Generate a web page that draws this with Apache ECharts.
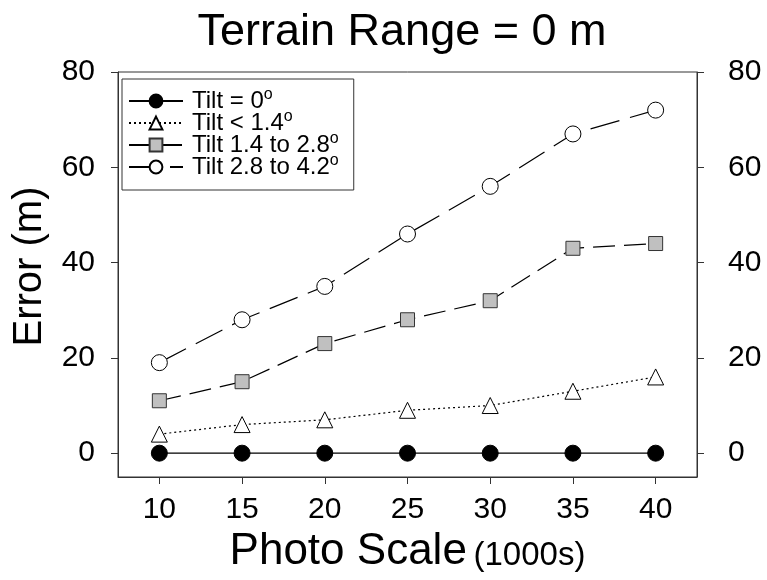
<!DOCTYPE html>
<html>
<head>
<meta charset="utf-8">
<script src="https://cdn.jsdelivr.net/npm/echarts@6/dist/echarts.min.js"></script>
<style>
  html, body { margin: 0; padding: 0; background: #fff; }
  #chart { width: 767px; height: 580px; }
</style>
</head>
<body>
<div id="chart"></div>
<script>
// photo scale (1000s)
const scales = [10, 15, 20, 25, 30, 35, 40];
// error (m) per tilt class
const tilt0 = [0, 0, 0, 0, 0, 0, 0];
const tiltLow = [4, 6, 7, 9, 10, 13, 16];
const tiltMid = [11, 15, 23, 28, 32, 43, 44];
const tiltHigh = [19, 28, 35, 46, 56, 67, 72];
const yTicks = [0, 20, 40, 60, 80];

const font = 'Liberation Sans, Arial, sans-serif';

function pairs(ys) {
    return scales.map((x, i) => [x, ys[i]]);
}

const chart = echarts.init(document.getElementById('chart'));

// y 轴公共设置
function yAxisOf(pos, margin) {
    return {
        type: 'value',
        position: pos,
        min: -5,
        max: 80,
        splitLine: { show: false },
        axisLine: { show: true, lineStyle: { color: '#333', width: 1 } },
        axisTick: { show: true, inside: false, length: 7, customValues: yTicks, lineStyle: { color: '#333' } },
        axisLabel: { show: true, customValues: yTicks, margin: margin, fontSize: 30, color: '#000', fontFamily: font }
    };
}

const left = yAxisOf('left', 23);
left.name = 'Error (m)';
left.nameLocation = 'middle';
left.nameGap = 68;
left.nameTextStyle = { fontSize: 40, color: '#000', fontFamily: font, padding: [0, 0, 0, 16] };

const option = {
    backgroundColor: '#fff',
    animation: false,
    title: {
        text: 'Terrain Range = 0 m',
        left: 397,
        textAlign: 'center',
        top: 5,
        textStyle: { fontSize: 45, fontWeight: 'normal', color: '#000', fontFamily: font }
    },
    grid: {
        left: 118, right: 70, top: 72, bottom: 103,
        show: true, borderColor: '#333', borderWidth: 1
    },
    legend: {
        orient: 'vertical',
        left: 122, top: 79,
        backgroundColor: '#fff',
        borderColor: '#333', borderWidth: 1,
        padding: [8, 15, 9, 6],
        itemGap: -6,
        itemWidth: 54, itemHeight: 16,
        textStyle: {
            fontSize: 24, lineHeight: 24, color: '#000', fontFamily: font, padding: [0, 0, 0, 4],
            rich: {
                // 上标 o
                sup: { fontSize: 16, lineHeight: 12, padding: [0, 0, 12, 0], fontFamily: font, color: '#000' }
            }
        },
        formatter: function (name) {
            return name.replace('°', '{sup|o}');
        }
    },
    xAxis: {
        type: 'value',
        min: 7.5,
        max: 42.5,
        name: '{big|Photo Scale}  {small|(1000s)}',
        nameLocation: 'middle',
        nameGap: 53,
        nameTextStyle: {
            rich: {
                big: { fontSize: 44, color: '#000', fontFamily: font },
                small: { fontSize: 33, color: '#000', fontFamily: font, padding: [8, 0, 0, 0] }
            }
        },
        splitLine: { show: false },
        axisLine: { show: true, onZero: false, lineStyle: { color: '#333', width: 1 } },
        axisTick: { show: true, inside: false, length: 7, customValues: scales, lineStyle: { color: '#333' } },
        axisLabel: { show: true, customValues: scales, margin: 18, fontSize: 30, color: '#000', fontFamily: font }
    },
    yAxis: [left, yAxisOf('right', 31)],
    series: [
        {
            name: 'Tilt = 0°',
            type: 'line',
            data: pairs(tilt0),
            symbol: 'circle',
            symbolSize: 16,
            itemStyle: { color: '#000', borderColor: '#000', borderWidth: 1 },
            lineStyle: { color: '#000', width: 1.2, type: 'solid' }
        },
        {
            name: 'Tilt < 1.4°',
            type: 'line',
            data: pairs(tiltLow),
            symbol: 'triangle',
            symbolSize: 16,
            itemStyle: { color: '#fff', borderColor: '#000', borderWidth: 1 },
            lineStyle: { color: '#000', width: 1.2, type: [2, 3] }
        },
        {
            name: 'Tilt 1.4 to 2.8°',
            type: 'line',
            data: pairs(tiltMid),
            symbol: 'rect',
            symbolSize: 14,
            itemStyle: { color: '#c0c0c0', borderColor: '#333', borderWidth: 1 },
            lineStyle: { color: '#000', width: 1.2, type: [22, 9] }
        },
        {
            name: 'Tilt 2.8 to 4.2°',
            type: 'line',
            data: pairs(tiltHigh),
            symbol: 'circle',
            symbolSize: 16,
            itemStyle: { color: '#fff', borderColor: '#000', borderWidth: 1 },
            lineStyle: { color: '#000', width: 1.2, type: [30, 11] }
        }
    ]
};

chart.setOption(option);
</script>
</body>
</html>
